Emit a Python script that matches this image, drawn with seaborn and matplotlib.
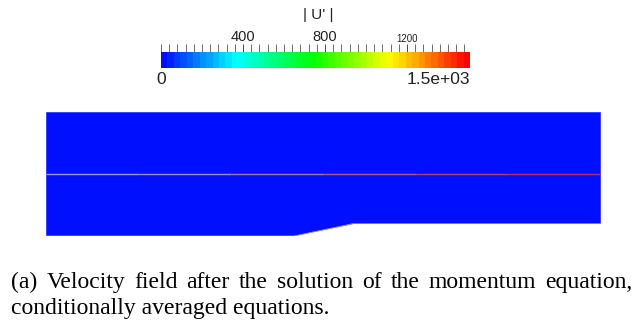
import numpy as np
import matplotlib
matplotlib.use("Agg")
import matplotlib.pyplot as plt
from matplotlib.colors import ListedColormap
from matplotlib.patches import Polygon
from matplotlib.collections import LineCollection
import seaborn as sns

# ---- data ---------------------------------------------------------------
# channel outline (non-dimensional, half-height = 1)
outline_x = [0.0, 8.95, 8.95, 4.95, 4.0, 0.0]
outline_y = [1.0, 1.0, -0.8, -0.8, -1.0, -1.0]
# velocity magnitude |U'| on the grid (zero everywhere after the solve)
u_mag_value = 0.0
u_min, u_max = 0.0, 1507.0
major_ticks = [400, 800, 1200]
major_labels = ["400", "800", "1200"]
major_label_sizes = [10.5, 10.5, 7]
minor_step = 40
end_labels = ["0", "1.5e+03"]
bar_title = "| U' |"
# interface line colour sampled along its length
interface_colors = ["#9a96cc", "#a08ac0", "#aa70a8", "#b45590", "#bc3c72", "#c02c60"]
caption_line1 = "(a) Velocity field after the solution of the momentum equation,"
caption_line2 = "conditionally averaged equations."

# ---- figure -------------------------------------------------------------
W, H = 633, 329
sns.set_style("white")
plt.rcParams["font.family"] = ["Liberation Sans", "DejaVu Sans"]
fig = plt.figure(figsize=(W / 100, H / 100), dpi=100)


def px_axes(x0, y0, x1, y1):
    return fig.add_axes([x0 / W, 1 - y1 / H, (x1 - x0) / W, (y1 - y0) / H])


# blue -> cyan -> green -> yellow -> red rainbow
hues = np.linspace(2 / 3, 0, 48)
rainbow = ListedColormap([plt.cm.hsv(h) for h in hues])

dx = 0.05
nx = int(round(max(outline_x) / dx))
ny = int(round((max(outline_y) - min(outline_y)) / dx))
field = np.full((ny, nx), u_mag_value)

ax = px_axes(46, 112, 601, 236)
cax = px_axes(161, 52, 470, 68)
sns.heatmap(field, ax=ax, cmap=rainbow, vmin=u_min, vmax=u_max,
            cbar=True, cbar_ax=cax, cbar_kws={"orientation": "horizontal"},
            xticklabels=False, yticklabels=False)
ax.set_xlim(0, nx)
ax.set_ylim(ny, 0)
for s in ax.spines.values():
    s.set_visible(False)

# clip the field to the channel outline (heatmap rows run top-down)
ytop = max(outline_y)
pts = [(x / dx, (ytop - y) / dx) for x, y in zip(outline_x, outline_y)]
poly = Polygon(pts, closed=True, transform=ax.transData, facecolor="none",
               edgecolor="#8f8fff", linewidth=0.6)
ax.add_patch(poly)
ax.collections[0].set_clip_path(poly)

# interface line at y = 0
xs = np.linspace(0, nx, len(interface_colors) + 1)
yc = (ytop - 0.0) / dx
segs = [[(xs[i], yc), (xs[i + 1], yc)] for i in range(len(interface_colors))]
ax.add_collection(LineCollection(segs, colors=interface_colors, linewidths=1.0))

# ---- colour bar ---------------------------------------------------------
cbar = ax.collections[0].colorbar
cbar.outline.set_visible(False)
cax.xaxis.set_ticks_position("top")
cax.xaxis.set_label_position("top")
cax.set_xticks(major_ticks)
cax.set_xticklabels(major_labels)
for lab, fs in zip(cax.get_xticklabels(), major_label_sizes):
    lab.set_fontsize(fs)
    lab.set_color("#222222")
cax.tick_params(axis="x", which="major", direction="inout", length=11,
                width=0.7, color="#444444", pad=0.5)
minor = [v for v in np.arange(0, u_max + 1, minor_step) if v not in major_ticks]
cax.set_xticks(minor, minor=True)
cax.tick_params(axis="x", which="minor", direction="out", length=5.5,
                width=0.6, color="#555555")
cax.tick_params(axis="y", left=False, right=False, labelleft=False, labelright=False)

fig.text(318.5 / W, 1 - 14.5 / H, bar_title, ha="center", va="center",
         fontsize=11, color="#222222")
fig.text(161 / W, 1 - 80 / H, end_labels[0], ha="center", va="center",
         fontsize=12.5, color="#222222")
fig.text(470 / W, 1 - 80 / H, end_labels[1], ha="right", va="center",
         fontsize=12.5, color="#222222")

# ---- caption (justified first line) -------------------------------------
cap_font = dict(fontsize=17, family=["Liberation Serif", "DejaVu Serif"],
                color="black")
renderer = fig.canvas.get_renderer()
words = caption_line1.split(" ")
texts = [fig.text(0, 1 - 288 / H, w, ha="left", va="baseline", **cap_font)
         for w in words]
widths = [t.get_window_extent(renderer).width for t in texts]
x_left, x_right = 11, 632
gap = (x_right - x_left - sum(widths)) / (len(words) - 1)
x = x_left
for t, w in zip(texts, widths):
    t.set_x(x / W)
    x += w + gap
fig.text(x_left / W, 1 - 314 / H, caption_line2, ha="left", va="baseline",
         **cap_font)

fig.savefig("out.png", dpi=100)
